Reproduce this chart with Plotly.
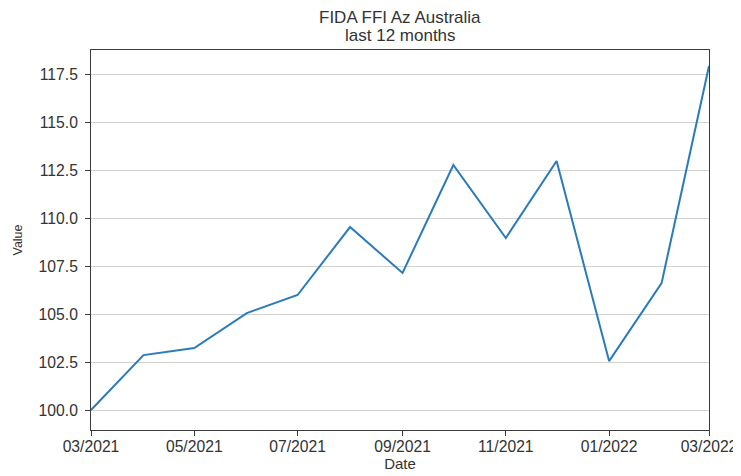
"""FIDA FFI Az Australia - last 12 months line chart."""

import plotly.graph_objects as go

DATES = [
    "2021-03-01", "2021-04-01", "2021-05-01", "2021-06-01", "2021-07-01",
    "2021-08-01", "2021-09-01", "2021-10-01", "2021-11-01", "2021-12-01",
    "2022-01-01", "2022-02-01", "2022-03-01",
]
VALUES = [
    100.0, 102.86, 103.23, 105.05, 105.99,
    109.53, 107.14, 112.76, 108.96, 112.97,
    102.55, 106.61, 117.92,
]
TICK_DATES = ["2021-03-01", "2021-05-01", "2021-07-01", "2021-09-01",
              "2021-11-01", "2022-01-01", "2022-03-01"]
TICK_LABELS = ["03/2021", "05/2021", "07/2021", "09/2021",
               "11/2021", "01/2022", "03/2022"]
Y_TICKS = [100.0, 102.5, 105.0, 107.5, 110.0, 112.5, 115.0, 117.5]
TITLE_LINES = ["FIDA FFI Az Australia", "last 12 months"]

LINE_BLUE = "#2b7bba"
AXIS_GREY = "#3a3a3a"
TEXT_GREY = "#333333"
FONT = "Liberation Sans, Arial, sans-serif"

fig = go.Figure(
    go.Scatter(
        x=DATES, y=VALUES,
        mode="lines",
        line=dict(color=LINE_BLUE, width=2),
        showlegend=False,
    )
)

# page body adds an 8px offset, so margins are shifted to compensate
fig.update_layout(
    width=741, height=476,
    margin=dict(l=83, r=40, t=42, b=54),
    paper_bgcolor="white",
    plot_bgcolor="white",
    font=dict(family=FONT, size=15, color=TEXT_GREY),
)

# two-line title, one annotation per line to control the line spacing
for line, shift in zip(TITLE_LINES, [33, 15]):
    fig.add_annotation(
        text=line, showarrow=False,
        xref="paper", yref="paper", x=0.5, y=1,
        xanchor="center", yanchor="middle", yshift=shift,
        font=dict(size=17, color=TEXT_GREY),
    )

fig.update_xaxes(
    range=["2021-03-01", "2022-03-01"],
    tickmode="array", tickvals=TICK_DATES, ticktext=TICK_LABELS,
    tickfont=dict(size=15.7),
    ticks="outside", ticklen=5, tickcolor=AXIS_GREY,
    ticklabelstandoff=-3,
    showgrid=False, zeroline=False, automargin=False,
    showline=True, linecolor=AXIS_GREY, linewidth=1, mirror=True,
    title=dict(text="Date", standoff=4, font=dict(size=15)),
)
fig.update_yaxes(
    range=[98.96, 118.75],
    tickmode="array", tickvals=Y_TICKS,
    tickformat=".1f",
    tickfont=dict(size=15.7),
    ticks="outside", ticklen=5, tickcolor=AXIS_GREY,
    ticklabelstandoff=4,
    showgrid=True, gridcolor="#d3d3d3", gridwidth=1, zeroline=False,
    automargin=False,
    showline=True, linecolor=AXIS_GREY, linewidth=1, mirror=True,
    title=dict(text="Value", standoff=13, font=dict(size=12.5)),
)

fig.write_html("out.html")
